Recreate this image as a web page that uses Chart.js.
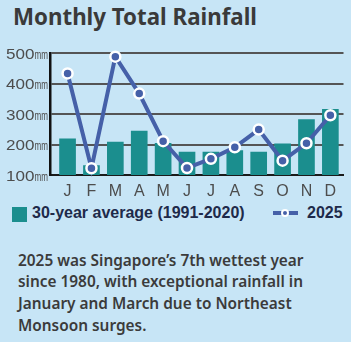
<!DOCTYPE html>
<html>
<head>
<meta charset="utf-8">
<script src="https://cdn.jsdelivr.net/npm/chart.js@4"></script>
<style>
  html, body { margin: 0; padding: 0; }
  body { width: 351px; height: 342px; background: #c7e5f6; position: relative; overflow: hidden; }
  #title { position: absolute; left: 13px; top: 5px; font: bold 22.3px/23px "Noto Sans", sans-serif; color: #3a3a3a; white-space: nowrap; }
  #wrap { position: absolute; left: 0; top: 40px; width: 351px; height: 160px; }
  .legend { position: absolute; font: bold 16px/16px "Liberation Sans", Arial, sans-serif; color: #1e2a4a; white-space: nowrap; }
  #swatch { position: absolute; left: 12px; top: 207px; width: 15px; height: 15px; background: #1b8e8e; }
  #lineKey { position: absolute; left: 273px; top: 211px; width: 25px; height: 4px; background: #4560a8; }
  #dotKey { position: absolute; left: 281px; top: 209px; width: 4px; height: 4px; border: 2px solid #fff; border-radius: 50%; background: #4560a8; }
  #note { position: absolute; left: 18px; top: 249.5px; font: 600 15.4px/21.7px "Noto Sans", sans-serif; color: #3b3b3b; }
</style>
</head>
<body>
<div id="title">Monthly Total Rainfall</div>
<div id="wrap"><canvas id="chart" width="351" height="160"></canvas></div>
<div id="swatch"></div>
<div class="legend" style="left:32px; top:204.8px;">30-year average (1991-2020)</div>
<div id="lineKey"></div>
<div id="dotKey"></div>
<div class="legend" style="left:307px; top:204.8px;">2025</div>
<div id="note">2025 was Singapore’s 7th wettest year<br>since 1980, with exceptional rainfall in<br>January and March due to Northeast<br>Monsoon surges.</div>

<script>
const months = ['J', 'F', 'M', 'A', 'M', 'J', 'J', 'A', 'S', 'O', 'N', 'D'];
const average30 = [219, 131, 208, 244, 204, 175, 175, 180, 175, 202, 282, 315];
const rain2025 = [433, 122, 488, 367, 211, 123, 153, 191, 249, 147, 204, 296];
const yTicks = [100, 200, 300, 400, 500];

const teal = '#1b8e8e';
const blue = '#4560a8';

// etiquetas del eje Y: número normal y "mm" comprimido
const yLabels = {
    id: 'yLabels',
    afterDraw(chart) {
        const ctx = chart.ctx;
        const scale = chart.scales.y;
        ctx.save();
        ctx.fillStyle = '#4d4d4d';
        ctx.textBaseline = 'alphabetic';
        yTicks.forEach(v => {
            const y = scale.getPixelForValue(v) + 5.5;
            const num = String(v);
            ctx.font = '15.5px "Liberation Sans", Arial, sans-serif';
            const dw = ctx.measureText(num).width * 1.1;
            ctx.font = '13px "Liberation Sans", Arial, sans-serif';
            const mw = ctx.measureText('mm').width * 0.62;
            const x0 = 48 - dw - mw;
            ctx.save();
            ctx.translate(x0, y);
            ctx.scale(1.1, 1);
            ctx.font = '15.5px "Liberation Sans", Arial, sans-serif';
            ctx.fillText(num, 0, 0);
            ctx.restore();
            ctx.save();
            ctx.translate(x0 + dw, y);
            ctx.scale(0.62, 1);
            ctx.font = '13px "Liberation Sans", Arial, sans-serif';
            ctx.fillText('mm', 0, 0);
            ctx.restore();
        });
        ctx.restore();
    }
};

new Chart(document.getElementById('chart'), {
    type: 'bar',
    data: {
        datasets: [
            {
                type: 'bar',
                label: '30-year average (1991-2020)',
                data: average30.map((v, i) => ({ x: i, y: v })),
                backgroundColor: teal,
                barThickness: 16,
                order: 1
            },
            {
                type: 'line',
                label: '2025',
                data: rain2025.map((v, i) => ({ x: i, y: v })),
                borderColor: blue,
                borderWidth: 4,
                tension: 0,
                pointRadius: 5,
                pointBackgroundColor: blue,
                pointBorderColor: '#ffffff',
                pointBorderWidth: 2.5,
                clip: false,
                order: 0
            }
        ]
    },
    plugins: [yLabels],
    options: {
        responsive: false,
        animation: false,
        devicePixelRatio: 1,
        layout: { padding: { top: 13, left: 0, right: 0, bottom: 0 } },
        plugins: { legend: { display: false }, tooltip: { enabled: false } },
        scales: {
            x: {
                type: 'linear',
                offset: false,
                min: -0.735,
                max: 11.55,
                grid: { display: false, drawTicks: false },
                border: { display: true, color: '#1a1a1a', width: 2 },
                afterBuildTicks: scale => { scale.ticks = months.map((m, i) => ({ value: i })); },
                afterFit: scale => { scale.height = 25; },
                ticks: {
                    autoSkip: false,
                    maxRotation: 0,
                    padding: 7,
                    color: '#4d4d4d',
                    font: { family: '"Liberation Sans", Arial, sans-serif', size: 16 },
                    callback: v => months[v]
                }
            },
            y: {
                min: 100,
                max: 500,
                afterBuildTicks: scale => { scale.ticks = yTicks.map(v => ({ value: v })); },
                afterFit: scale => { scale.width = 50; },
                grid: { color: '#555555', lineWidth: 2, drawTicks: false },
                border: { display: true, color: '#111111', width: 2.5 },
                ticks: { display: false }
            }
        }
    }
});
</script>
</body>
</html>
